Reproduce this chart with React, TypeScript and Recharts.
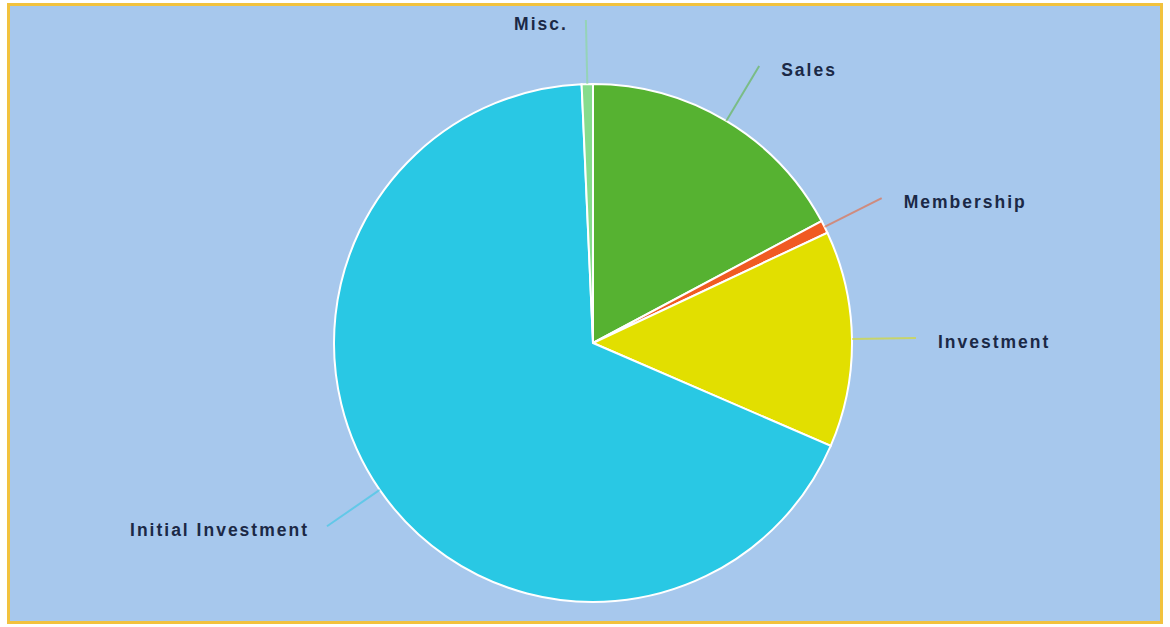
import { PieChart, Pie, Cell } from "recharts";

const CATEGORIES = ["Sales", "Membership", "Investment", "Initial Investment", "Misc."];
const VALUES = [17.2, 0.8, 13.5, 67.8, 0.7];
const COLORS = ["#56b231", "#f05a22", "#e2df00", "#29c8e4", "#86dc8c"];

const data = CATEGORIES.map((name, i) => ({ name, value: VALUES[i] }));

const RADIAN = Math.PI / 180;

function renderLabel(props: any) {
  const { cx, cy, midAngle, outerRadius, index } = props;
  const cos = Math.cos(-midAngle * RADIAN);
  const sin = Math.sin(-midAngle * RADIAN);
  const x0 = cx + outerRadius * cos;
  const y0 = cy + outerRadius * sin;
  const ext = 64;
  const x1 = cx + (outerRadius + ext) * cos;
  const y1 = cy + (outerRadius + ext) * sin;
  const right = cos >= 0;
  const tx = x1 + (right ? 22 : -18);
  return (
    <g>
      <path
        d={`M${x0},${y0} L${x1},${y1}`}
        stroke={COLORS[index]}
        strokeOpacity={0.55}
        strokeWidth={2}
        fill="none"
      />
      <text
        x={tx}
        y={y1 + 4}
        textAnchor={right ? "start" : "end"}
        dominantBaseline="central"
        fill="#1b2946"
        fontFamily="'Liberation Sans', Arial, sans-serif"
        fontWeight="bold"
        fontSize={17.5}
        letterSpacing={2}
      >
        {CATEGORIES[index]}
      </text>
    </g>
  );
}

export default function App() {
  return (
    <div
      style={{
        position: "absolute",
        left: 7,
        top: 3,
        width: 1150,
        height: 615,
        border: "3px solid #f2c23e",
        background: "#a7c8ed",
      }}
    >
      <PieChart width={1150} height={615}>
        <Pie
          data={data}
          dataKey="value"
          nameKey="name"
          cx={578}
          cy={332}
          outerRadius={259}
          startAngle={90}
          endAngle={-270}
          stroke="#ffffff"
          strokeWidth={2}
          label={renderLabel}
          labelLine={false}
          isAnimationActive={false}
        >
          {data.map((_, i) => (
            <Cell key={i} fill={COLORS[i]} />
          ))}
        </Pie>
      </PieChart>
    </div>
  );
}
